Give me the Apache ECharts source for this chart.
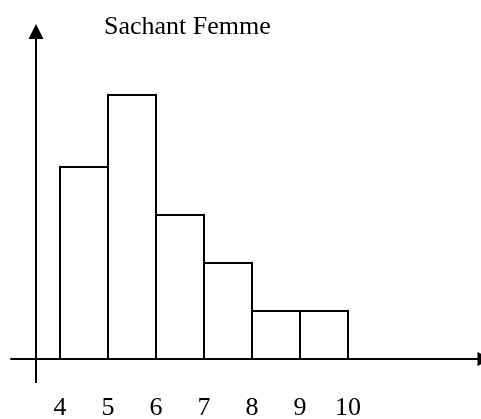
<!DOCTYPE html>
<html><head><meta charset="utf-8">
<script src="https://cdn.jsdelivr.net/npm/echarts@6/dist/echarts.min.js"></script>
<style>html,body{margin:0;padding:0;background:#fff}#c{width:481px;height:419px}</style>
</head><body><div id="c"></div>
<script>
const tickLabels = [4, 5, 6, 7, 8, 9, 10];
const binStarts = [4, 5, 6, 7, 8, 9];
const binEnds = [5, 6, 7, 8, 9, 10];
const counts = [4, 5.5, 3, 2, 1, 1];
const titleText = 'Sachant Femme';

const serif = '"Liberation Serif","Times New Roman",serif';
const chart = echarts.init(document.getElementById('c'), null, {renderer: 'canvas'});
const data = binStarts.map((s, i) => [s, binEnds[i], counts[i]]);
const xMin = 4 - 49 / 48;
const xMax = xMin + 474 / 48;
chart.setOption({
  animation: false,
  title: {text: titleText, left: 99, top: 9,
    textStyle: {fontFamily: serif, fontSize: 26, fontWeight: 'normal', color: '#000'}},
  grid: {left: 11, right: -4, top: 23, bottom: 36, containLabel: false, outerBoundsMode: 'none'},
  xAxis: {
    type: 'value', min: xMin, max: xMax,
    axisLine: {show: true, onZero: true, symbol: ['none', 'triangle'], symbolSize: [14, 15],
      lineStyle: {color: '#000', width: 2}},
    axisTick: {show: false}, splitLine: {show: false},
    axisLabel: {customValues: tickLabels, margin: 12, fontFamily: serif, fontSize: 26, color: '#000'}
  },
  yAxis: {
    type: 'value', min: -0.5, max: 7,
    axisLine: {show: false}, axisTick: {show: false}, axisLabel: {show: false}, splitLine: {show: false}
  },
  series: [{
    type: 'custom',
    data: data,
    encode: {x: [0, 1], y: 2},
    renderItem: function (params, api) {
      const p0 = api.coord([api.value(0), api.value(2)]);
      const p1 = api.coord([api.value(1), 0]);
      return {type: 'rect', shape: {x: p0[0], y: p0[1], width: p1[0] - p0[0], height: p1[1] - p0[1]},
        style: {fill: '#fff', stroke: '#000', lineWidth: 2}};
    },
    markLine: {
      silent: true, animation: false,
      symbol: ['none', 'triangle'], symbolSize: [15, 15],
      label: {show: false},
      lineStyle: {color: '#000', width: 2, type: 'solid'},
      data: [[{coord: [3.5, -0.5]}, {coord: [3.5, 6.823]}]]
    }
  }]
});
</script></body></html>
